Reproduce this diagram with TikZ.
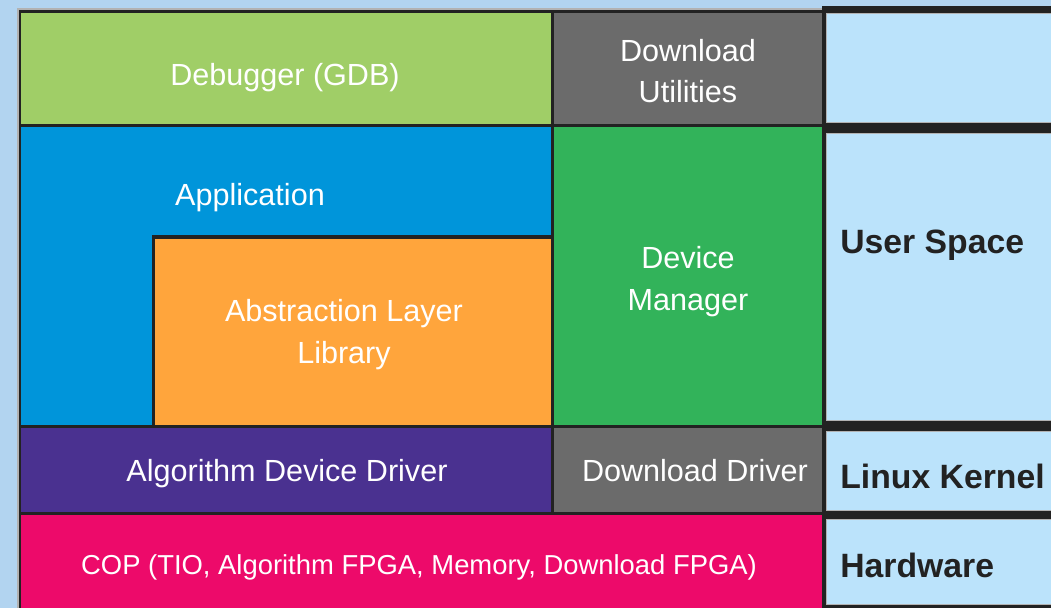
\documentclass[tikz,border=0pt]{standalone}
\usepackage{fontspec}
\setmainfont{Liberation Sans}

\definecolor{bgblue}{RGB}{178,212,240}
\definecolor{cellblue}{RGB}{187,227,251}
\definecolor{edge}{RGB}{34,34,34}
\definecolor{dbggreen}{RGB}{160,206,103}
\definecolor{utilgray}{RGB}{107,107,107}
\definecolor{appblue}{RGB}{0,149,218}
\definecolor{liborange}{RGB}{255,165,60}
\definecolor{mgrgreen}{RGB}{50,179,90}
\definecolor{drvpurple}{RGB}{74,49,144}
\definecolor{coppink}{RGB}{237,10,106}

\begin{document}
\begin{tikzpicture}[x=0.02cm,y=-0.02cm,
  lbl/.style={text=white,align=center,inner sep=0pt,font=\fontsize{17.4}{23.8}\selectfont},
  layer/.style={text=edge,anchor=west,inner sep=0pt,font=\fontsize{19.2}{23}\selectfont\bfseries},
  side/.style={fill=cellblue,draw=gray!60,line width=0.4pt}]
\useasboundingbox (0,0) rectangle (1051,608);
\fill[bgblue] (0,0) rectangle (1051,608);

% frame of the stack
\fill[gray!60] (17,8) rectangle (826,608);
\fill[edge] (19,10) rectangle (826,608);

\fill[dbggreen] (21,13) rectangle (551,124);
\fill[utilgray] (554,13) rectangle (822,124);
\fill[appblue] (21,127) rectangle (551,425);
\fill[edge] (152,235) rectangle (551,425);
\fill[liborange] (155,239) rectangle (551,425);
\fill[mgrgreen] (554,127) rectangle (822,425);
\fill[drvpurple] (21,428) rectangle (551,512);
\fill[utilgray] (554,428) rectangle (822,512);
\fill[coppink] (21,515) rectangle (822,608);

% layer column
\fill[edge] (822,6) rectangle (1051,608);
\draw[side] (826,13) rectangle (1052,122);
\draw[side] (826,133) rectangle (1052,420);
\draw[side] (826,431) rectangle (1052,510);
\draw[side] (826,519) rectangle (1052,604);

\node[lbl] (dbg) at (285,78) {Debugger (GDB)};
\node[lbl] (utils) at (688,71) {Download\\Utilities};
\node[lbl] (app) at (250,198) {Application};
\node[lbl] (lib) at (344,335) {Abstraction Layer\\Library};
\node[lbl] (mgr) at (688,282) {Device\\Manager};
\node[lbl] (algdrv) at (287,474) {Algorithm Device Driver};
\node[lbl] (dldrv) at (695,471) {Download Driver};
\node[lbl,font=\fontsize{15.6}{20}\selectfont] (cop) at (419,567) {COP (TIO, Algorithm FPGA, Memory, Download FPGA)};

\node[layer] (user) at (840,245) {User Space};
\node[layer] (kernel) at (840,476) {Linux Kernel};
\node[layer] (hw) at (840,565) {Hardware};
\end{tikzpicture}
\end{document}
